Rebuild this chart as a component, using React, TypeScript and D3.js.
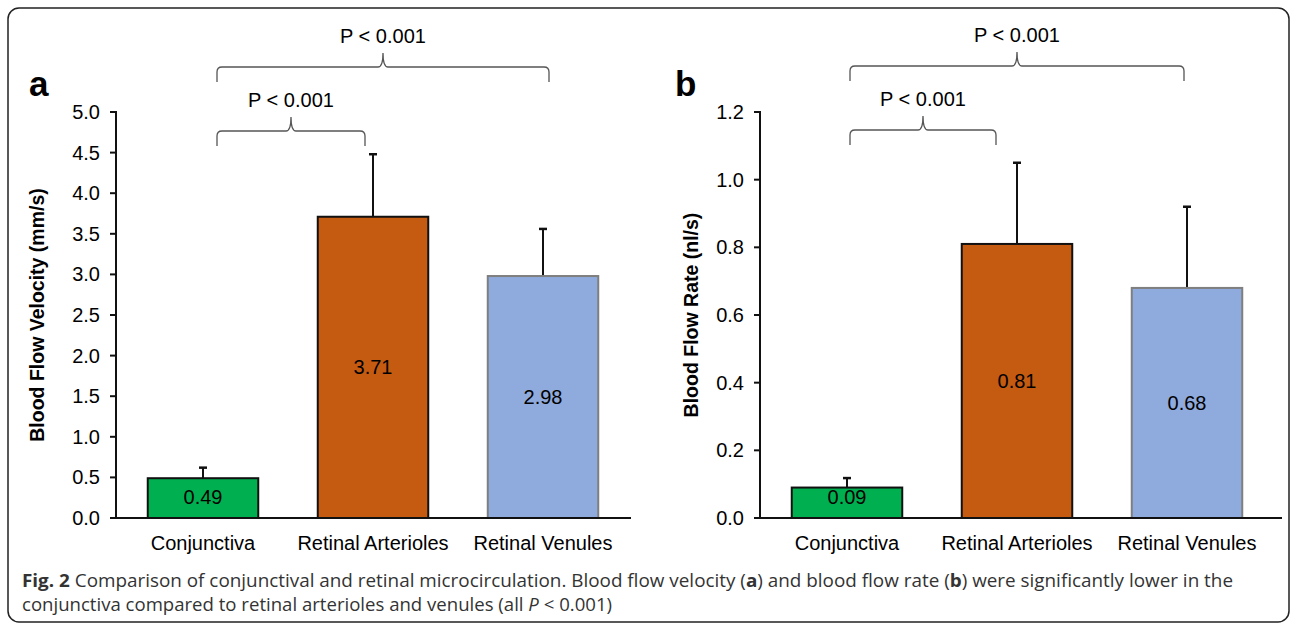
import React from "react";
import * as d3 from "d3";

const categories = ["Conjunctiva", "Retinal Arterioles", "Retinal Venules"];
const velocityMeans = [0.49, 3.71, 2.98];
const velocityErrors = [0.13, 0.77, 0.58];
const rateMeans = [0.09, 0.81, 0.68];
const rateErrors = [0.028, 0.24, 0.24];
const velocityTicks = [0, 0.5, 1, 1.5, 2, 2.5, 3, 3.5, 4, 4.5, 5];
const rateTicks = [0, 0.2, 0.4, 0.6, 0.8, 1.0, 1.2];
const pLabel = "P < 0.001";

const fills = ["#00B050", "#C55A11", "#8FAADC"];
const strokes = ["#111", "#111", "#7f7f7f"];
const font = "Liberation Sans, Arial, sans-serif";

// curly bracket: ends down at yBot, bar at yH, cusp at cx up to yTop
const bracePath = (x1, x2, cx, yH, yTop, yBot) => {
  const r = 5;
  return `M${x1},${yBot} L${x1},${yH + r} Q${x1},${yH} ${x1 + r},${yH} L${cx - 5},${yH} Q${cx},${yH} ${cx},${yTop}` +
    ` Q${cx},${yH} ${cx + 5},${yH} L${x2 - r},${yH} Q${x2},${yH} ${x2},${yH + r} L${x2},${yBot}`;
};

const Panel = ({ left, axisEnd, means, errors, ticks, yMax, title, letter, letterX, titleX, braces, fmt }) => {
  const top = 112;
  const bottom = 518;
  const x = d3.scaleBand().domain(categories).range([left + 2, left + 2 + 510]).paddingInner(0.35).paddingOuter(0.175);
  const y = d3.scaleLinear().domain([0, yMax]).range([bottom, top]);
  const cx = (c) => x(c) + x.bandwidth() / 2;

  return (
    <g>
      <text x={letterX} y={96} fontFamily={font} fontWeight="bold" fontSize={35}>{letter}</text>
      <text transform={`translate(${titleX},${(top + bottom) / 2}) rotate(-90)`} textAnchor="middle"
        fontFamily={font} fontWeight="bold" fontSize={19.5}>{title}</text>

      {categories.map((c, i) => {
        const yTop = y(means[i] + errors[i]);
        return (
          <g key={c}>
            <line x1={cx(c)} x2={cx(c)} y1={y(means[i])} y2={yTop} stroke="#111" strokeWidth={2} />
            <line x1={cx(c) - 4} x2={cx(c) + 4} y1={yTop} y2={yTop} stroke="#111" strokeWidth={2.5} />
            <rect x={x(c)} y={y(means[i])} width={x.bandwidth()} height={bottom - y(means[i])}
              fill={fills[i]} stroke={strokes[i]} strokeWidth={2} />
            <text x={cx(c)} y={Math.min((y(means[i]) + bottom) / 2 + 7, bottom - 14)} textAnchor="middle" fontFamily={font} fontSize={20}>
              {means[i].toFixed(2)}
            </text>
            <text x={cx(c)} y={550} textAnchor="middle" fontFamily={font} fontSize={20}>{c}</text>
          </g>
        );
      })}

      <line x1={left} x2={left} y1={top - 1} y2={bottom + 1} stroke="#111" strokeWidth={2} />
      <line x1={left - 1} x2={axisEnd} y1={bottom} y2={bottom} stroke="#111" strokeWidth={2} />
      {ticks.map((t) => (
        <g key={t}>
          <line x1={left - 6} x2={left} y1={y(t)} y2={y(t)} stroke="#111" strokeWidth={2} />
          <text x={left - 16} y={y(t) + 7} textAnchor="end" fontFamily={font} fontSize={20}>{fmt(t)}</text>
        </g>
      ))}

      {braces.map((b, i) => {
        const x1 = cx(categories[b.from]) + b.dx1;
        const x2 = cx(categories[b.to]) + b.dx2;
        const mid = (x1 + x2) / 2;
        return (
          <g key={i}>
            <path d={bracePath(x1, x2, mid, b.yH, b.yH - 14, b.yH + 15)} fill="none" stroke="#555" strokeWidth={1.3} />
            <text x={mid} y={b.yH - 24} textAnchor="middle" fontFamily={font} fontSize={20}>{pLabel}</text>
          </g>
        );
      })}
    </g>
  );
};

export default function App() {
  return (
    <div style={{ position: "absolute", left: 0, top: 0 }}>
      <svg width={1292} height={626} style={{ display: "block", background: "#fff" }}>
        <rect x={8} y={8} width={1281} height={614} rx={11} fill="none" stroke="#222" strokeWidth={1.5} />
        <Panel left={116} axisEnd={631} means={velocityMeans} errors={velocityErrors} ticks={velocityTicks} yMax={5}
          title="Blood Flow Velocity (mm/s)" letter="a" letterX={29} titleX={44} fmt={d3.format(".1f")}
          braces={[{ from: 0, to: 2, dx1: 14, dx2: 6, yH: 67 }, { from: 0, to: 1, dx1: 14, dx2: -8, yH: 131 }]} />
        <Panel left={760} axisEnd={1282} means={rateMeans} errors={rateErrors} ticks={rateTicks} yMax={1.2}
          title="Blood Flow Rate (nl/s)" letter="b" letterX={675} titleX={698} fmt={d3.format(".1f")}
          braces={[{ from: 0, to: 2, dx1: 3, dx2: -3, yH: 66 }, { from: 0, to: 1, dx1: 3, dx2: -21, yH: 130 }]} />
        <text x={22} y={587} fontFamily="Open Sans, sans-serif" fontSize={18.5} fill="#333" textLength={1211} lengthAdjust="spacingAndGlyphs">
          <tspan fontWeight="bold">Fig. 2</tspan> Comparison of conjunctival and retinal microcirculation. Blood flow velocity (
          <tspan fontWeight="bold">a</tspan>) and blood flow rate (<tspan fontWeight="bold">b</tspan>) were significantly lower in the
        </text>
        <text x={22} y={611} fontFamily="Open Sans, sans-serif" fontSize={18.5} fill="#333" textLength={590} lengthAdjust="spacingAndGlyphs">
          conjunctiva compared to retinal arterioles and venules (all <tspan fontStyle="italic">P</tspan> {"<"} 0.001)
        </text>
      </svg>
    </div>
  );
}
